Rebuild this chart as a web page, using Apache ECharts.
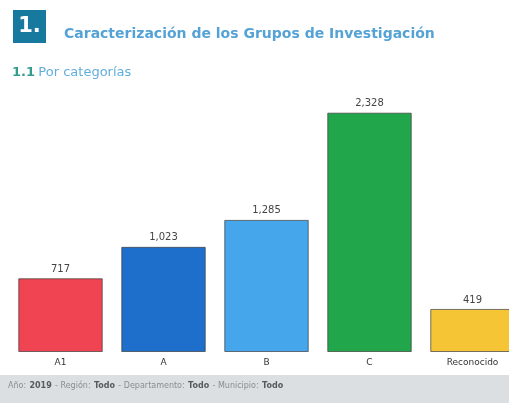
<!DOCTYPE html>
<html>
<head>
<meta charset="utf-8">
<script src="https://cdn.jsdelivr.net/npm/echarts@6/dist/echarts.min.js"></script>
<style>
  html, body { margin: 0; padding: 0; background: #ffffff; }
  #chart { width: 509px; height: 403px; }
</style>
</head>
<body>
<div id="chart"></div>
<script>
// Research groups by category
const categories = ['A1', 'A', 'B', 'C', 'Reconocido'];
const groupCounts = [717, 1023, 1285, 2328, 419];
const barColors = ['#f04452', '#1e6fcb', '#45a6ec', '#21a64c', '#f6c535'];

const headingNumber = '1.';
const headingTitle = 'Caracterización de los Grupos de Investigación';
const subNumber = '1.1';
const subTitle = 'Por categorías';

const chart = echarts.init(document.getElementById('chart'), null, { renderer: 'canvas' });

chart.setOption({
  backgroundColor: '#ffffff',
  animation: false,
  grid: { left: 9, width: 515, top: 95, bottom: 51, containLabel: false, outerBoundsMode: 'none' },
  xAxis: {
    type: 'category',
    data: categories,
    axisLine: { show: false },
    axisTick: { show: false },
    axisLabel: {
      color: '#333',
      fontFamily: 'DejaVu Sans',
      fontSize: 9,
      margin: 6
    }
  },
  yAxis: {
    type: 'value',
    min: 0,
    max: 2500,
    show: false,
    splitLine: { show: false }
  },
  series: [{
    type: 'bar',
    barCategoryGap: '18%',
    data: groupCounts.map((v, i) => ({
      value: v,
      itemStyle: { color: barColors[i] }
    })),
    itemStyle: { borderColor: 'rgba(60,60,60,0.7)', borderWidth: 1 },
    label: {
      show: true,
      position: 'top',
      distance: 4,
      color: '#444',
      fontFamily: 'DejaVu Sans',
      fontSize: 10,
      formatter: p => p.value.toLocaleString('en-US')
    }
  }],
  graphic: [
    {
      type: 'rect',
      shape: { x: 13, y: 10, width: 33, height: 33 },
      style: { fill: '#17799e' }
    },
    {
      type: 'text',
      x: 29.5, y: 27,
      style: {
        text: headingNumber,
        fill: '#ffffff',
        font: 'bold 21px "DejaVu Sans"',
        align: 'center',
        verticalAlign: 'middle'
      }
    },
    {
      type: 'text',
      x: 64, y: 34,
      style: {
        text: headingTitle,
        fill: '#55a3d6',
        font: 'bold 14px "DejaVu Sans"',
        verticalAlign: 'middle'
      }
    },
    {
      type: 'text',
      x: 12, y: 73,
      style: {
        text: '{n|' + subNumber + '} {t|' + subTitle + '}',
        verticalAlign: 'middle',
        rich: {
          n: { fill: '#2f9c8c', font: 'bold 13px "DejaVu Sans"' },
          t: { fill: '#62aedb', font: '13px "DejaVu Sans"' }
        }
      }
    },
    {
      type: 'rect',
      shape: { x: 0, y: 375, width: 509, height: 28 },
      style: { fill: '#dcdfe1' }
    },
    {
      type: 'text',
      x: 8, y: 386,
      style: {
        text: '{l|Año:} {b|2019} {l|- Región:} {b|Todo} {l|- Departamento:} {b|Todo} {l|- Municipio:} {b|Todo}',
        verticalAlign: 'middle',
        rich: {
          l: { fill: '#8a8d90', font: '8px "DejaVu Sans"' },
          b: { fill: '#555a5e', font: 'bold 8px "DejaVu Sans"' }
        }
      }
    }
  ]
});
</script>
</body>
</html>
